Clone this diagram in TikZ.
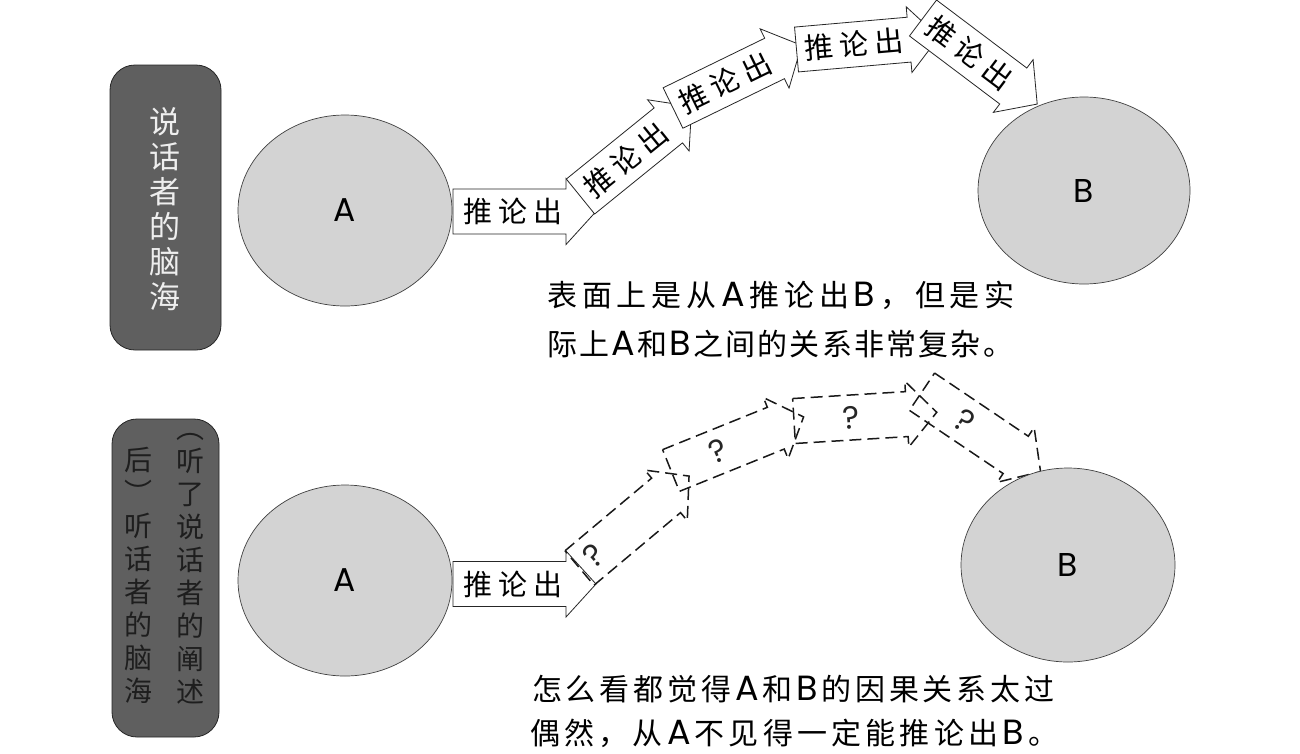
\documentclass[tikz,border=0pt]{standalone}
\usepackage{fontspec}
\setmainfont{Noto Sans CJK SC}
\newfontfamily\lat{Poppins}
\usetikzlibrary{shapes.geometric}

\definecolor{blobgray}{HTML}{D3D3D3}
\definecolor{panelgray}{HTML}{5F5F5F}
\definecolor{lightink}{HTML}{EEEEEE}
\definecolor{darkink}{HTML}{1E1E1E}

% letter-spaced text: every item followed by a fixed kern
\ExplSyntaxOn
\NewDocumentCommand\spaced{mm}{\tl_map_inline:nn{#2}{{##1}\kern#1}\unkern}
\ExplSyntaxOff
\newcommand\latbig{\lat\fontsize{35}{36}\selectfont}

% block arrow: name, tail centre, angle, outline style, label style, label offset, label
\newcommand\blockarrow[7]{%
  \begin{scope}[shift={(#2)},rotate=#3]
    \path[#4] (0,-22.5) -- (113,-22.5) -- (113,-33) -- (143,0) -- (113,33)
      -- (113,22.5) -- (0,22.5) -- cycle;
    \node[#5,rotate=#3] (#1) at (#6,0) {#7};
  \end{scope}}

\tikzset{
  solidarrow/.style={draw=black!85, line width=0.8pt, fill=white, line join=miter},
  dasharrow/.style={draw=black!90, line width=1.5pt, dash pattern=on 12pt off 6pt},
  arrowlabel/.style={inner sep=0pt, font=\fontsize{29}{30}\selectfont},
  qlabel/.style={inner sep=0pt, text=black!85, font=\lat\fontsize{32}{34}\selectfont},
  blob/.style={ellipse, draw=black!75, line width=0.7pt, fill=blobgray, inner sep=0pt,
    font=\lat\fontsize{33}{36}\selectfont},
  panel/.style={rounded corners=25pt, draw=black!85, line width=0.8pt, fill=panelgray},
  coltext/.style={align=center, inner sep=0pt},
  caption/.style={anchor=base west, inner sep=0pt, font=\fontsize{30}{36}\selectfont},
}

\begin{document}
\begin{tikzpicture}[x=1pt,y=-1pt]
  \fill[white] (0,0) rectangle (1300,753);
  \useasboundingbox (0,0) rectangle (1300,753);

  % ---------- upper panel: the speaker's mind ----------
  \node[panel, minimum width=111pt, minimum height=285pt] (P1) at (165.5,207.5) {};
  \node[coltext, text=lightink, font=\fontsize{31}{35}\selectfont] (c1) at (165,209.5)
    {说\\话\\者\\的\\脑\\海};

  \blockarrow{t1}{453,211.5}{0}{solidarrow}{arrowlabel}{60}{\spaced{6pt}{推论出}}
  \blockarrow{t2}{580.5,196.5}{39}{solidarrow}{arrowlabel}{58}{\spaced{6pt}{推论出}}
  \blockarrow{t3}{673,108}{26}{solidarrow}{arrowlabel}{58}{\spaced{6pt}{推论出}}
  \blockarrow{t4}{796.5,49.5}{5}{solidarrow}{arrowlabel}{58}{\spaced{6pt}{推论出}}
  \blockarrow{t5}{923,18}{-37}{solidarrow}{arrowlabel}{58}{\spaced{6pt}{推论出}}

  \node[blob, minimum width=214pt, minimum height=191pt] (A1) at (345,210.5) {A};
  \node[blob, minimum width=212pt, minimum height=187pt] (B1) at (1084,190.5) {B};

  \node[caption] (s1) at (547,306)
    {\spaced{4.8pt}{表面上是从{\latbig A}推论出{\latbig B}，但是实}};
  \node[caption] (s2) at (547,355)
    {\spaced{2.2pt}{际上{\latbig A}和{\latbig B}之间的关系非常复杂。}};

  % ---------- lower panel: the listener's mind ----------
  \node[panel, minimum width=107pt, minimum height=318pt] (P2) at (165.5,578) {};
  \node[coltext, text=darkink, font=\fontsize{28}{33}\selectfont] (c2) at (190,568.5)
    {︵\\听\\了\\说\\话\\者\\的\\阐\\述};
  \node[coltext, text=darkink, font=\fontsize{28}{33}\selectfont] (c3) at (138,575)
    {后\\︶\\听\\话\\者\\的\\脑\\海};

  \blockarrow{u1}{453,584}{0}{solidarrow}{arrowlabel}{60}{\spaced{6pt}{推论出}}
  \blockarrow{q2}{579.5,568}{40}{dasharrow}{qlabel}{19}{?}
  \blockarrow{q3}{671,470.5}{22}{dasharrow}{qlabel}{51}{?}
  \blockarrow{q4}{794,421}{3.5}{dasharrow}{qlabel}{57}{?}
  \blockarrow{q5}{922,391.7}{-34}{dasharrow}{qlabel}{52}{?}

  \node[blob, minimum width=214pt, minimum height=191pt] (A2) at (345,580.5) {A};
  \node[blob, minimum width=214pt, minimum height=194pt] (B2) at (1068,565) {B};

  \node[caption] (s3) at (532,700)
    {\spaced{3.8pt}{怎么看都觉得{\latbig A}和{\latbig B}的因果关系太过}};
  \node[caption] (s4) at (530,744)
    {\spaced{4.2pt}{偶然，从{\latbig A}不见得一定能推论出{\latbig B}。}};
\end{tikzpicture}
\end{document}
